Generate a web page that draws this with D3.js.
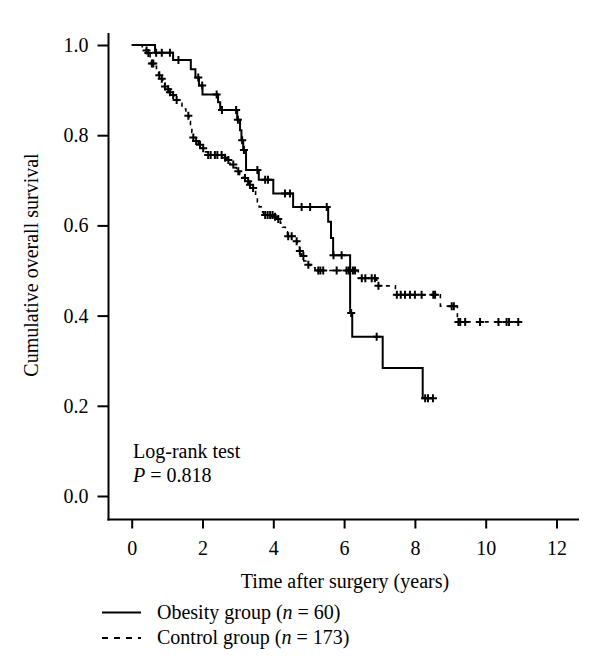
<!DOCTYPE html>
<html>
<head>
<meta charset="utf-8">
<script src="https://cdn.jsdelivr.net/npm/d3@7"></script>
<style>
  html, body { margin: 0; padding: 0; background: #fff; }
  svg { display: block; }
  text { font-family: "Liberation Serif", "Times New Roman", serif; fill: #000; }
</style>
</head>
<body>
<svg id="chart" width="600" height="671"></svg>
<script>
// ---------------- data ----------------
const xTicks = [0, 2, 4, 6, 8, 10, 12];
const yTicks = [0.0, 0.2, 0.4, 0.6, 0.8, 1.0];

// Obesity group: drop times and survival after drop
const obesityStepT = [0.66, 1.17, 1.67, 1.80, 1.90, 2.00, 2.44, 2.50, 2.98, 3.06, 3.10, 3.15, 3.23, 3.59, 4.00, 4.56, 5.55, 5.63, 5.69, 6.17, 6.23, 7.09, 8.22];
const obesityStepS = [0.983, 0.967, 0.946, 0.928, 0.910, 0.890, 0.873, 0.856, 0.834, 0.811, 0.789, 0.767, 0.723, 0.701, 0.671, 0.641, 0.608, 0.572, 0.534, 0.406, 0.353, 0.284, 0.217];
const obesityCensorT = [0.69, 0.85, 1.08, 1.32, 1.88, 1.99, 2.40, 2.55, 2.95, 3.00, 3.12, 3.17, 3.55, 3.77, 3.85, 4.33, 4.47, 4.80, 5.04, 5.51, 5.70, 5.93, 6.20, 6.92, 8.29, 8.37, 8.51];
const obesityEnd = 8.52;

// Control group
const controlStepT = [0.30, 0.40, 0.45, 0.52, 0.56, 0.62, 0.70, 0.76, 0.82, 0.88, 0.93, 1.00, 1.06, 1.12, 1.20, 1.26, 1.35, 1.42, 1.48, 1.53, 1.58, 1.62, 1.66, 1.70, 1.74, 1.80, 1.88, 1.94, 2.05, 2.15, 2.55, 2.68, 2.78, 2.90, 2.96, 3.05, 3.15, 3.22, 3.30, 3.36, 3.45, 3.50, 3.55, 3.60, 3.66, 3.72, 4.02, 4.12, 4.20, 4.26, 4.34, 4.40, 4.62, 4.68, 4.74, 4.80, 4.86, 4.95, 5.05, 5.18, 6.40, 6.92, 7.45, 8.72, 9.20];
const controlStepS = [0.994, 0.988, 0.982, 0.970, 0.959, 0.953, 0.942, 0.933, 0.925, 0.917, 0.908, 0.902, 0.895, 0.889, 0.884, 0.878, 0.871, 0.865, 0.858, 0.851, 0.843, 0.830, 0.818, 0.806, 0.795, 0.787, 0.779, 0.771, 0.763, 0.756, 0.750, 0.745, 0.735, 0.728, 0.720, 0.713, 0.705, 0.698, 0.690, 0.683, 0.675, 0.664, 0.652, 0.641, 0.630, 0.623, 0.619, 0.614, 0.605, 0.596, 0.586, 0.576, 0.565, 0.554, 0.543, 0.532, 0.521, 0.513, 0.506, 0.500, 0.483, 0.466, 0.446, 0.421, 0.386];
const controlCensorT = [0.42, 0.47, 0.57, 0.61, 0.78, 0.85, 0.94, 1.03, 1.08, 1.17, 1.27, 1.60, 1.74, 1.82, 1.93, 2.02, 2.16, 2.23, 2.35, 2.42, 2.54, 2.64, 2.73, 2.87, 3.01, 3.20, 3.29, 3.34, 3.43, 3.77, 3.84, 3.91, 3.98, 4.05, 4.14, 4.42, 4.52, 4.66, 4.75, 4.85, 4.99, 5.27, 5.33, 5.41, 5.79, 6.07, 6.13, 6.17, 6.25, 6.31, 6.50, 6.60, 6.78, 6.87, 6.97, 7.49, 7.60, 7.72, 7.86, 8.00, 8.19, 8.52, 8.57, 9.04, 9.10, 9.23, 9.28, 9.42, 9.84, 10.36, 10.59, 10.66, 10.92];
const controlEnd = 10.95;

const legendLabels = [
  { name: "Obesity group (", n: "n", rest: " = 60)" },
  { name: "Control group (", n: "n", rest: " = 173)" }
];

// ---------------- drawing ----------------
const svg = d3.select("#chart");
svg.append("rect").attr("width", 600).attr("height", 671).attr("fill", "#fff");

const x = d3.scaleLinear().domain([0, 12]).range([131.7, 556.5]);
const y = d3.scaleLinear().domain([0, 1]).range([496, 45]);

const axisLeftX = 108.5, axisBottomY = 519.5, axisTop = 33, axisRight = 579;

// y axis
const gy = svg.append("g").attr("transform", `translate(${axisLeftX},0)`)
  .call(d3.axisLeft(y).tickValues(yTicks).tickFormat(d3.format(".1f")).tickSize(11).tickPadding(9));
gy.select(".domain").remove();
gy.selectAll(".tick line").attr("stroke", "#000").attr("stroke-width", 2);
gy.selectAll(".tick text").style("font-size", "20px").style("font-family", "Liberation Serif, serif");

// x axis
const gx = svg.append("g").attr("transform", `translate(0,${axisBottomY})`)
  .call(d3.axisBottom(x).tickValues(xTicks).tickFormat(d3.format("d")).tickSize(9).tickPadding(12));
gx.select(".domain").remove();
gx.selectAll(".tick line").attr("stroke", "#000").attr("stroke-width", 2);
gx.selectAll(".tick text").style("font-size", "20px").style("font-family", "Liberation Serif, serif");

// axis lines
svg.append("line").attr("x1", axisLeftX).attr("x2", axisLeftX).attr("y1", axisTop).attr("y2", axisBottomY + 1)
  .attr("stroke", "#000").attr("stroke-width", 2);
svg.append("line").attr("x1", axisLeftX - 1).attr("x2", axisRight).attr("y1", axisBottomY).attr("y2", axisBottomY)
  .attr("stroke", "#000").attr("stroke-width", 2);

// axis titles
svg.append("text").attr("transform", "translate(38,265) rotate(-90)")
  .attr("text-anchor", "middle").style("font-size", "20px").text("Cumulative overall survival");
svg.append("text").attr("x", 345).attr("y", 588).attr("text-anchor", "middle")
  .style("font-size", "20px").text("Time after surgery (years)");

// curves
function stepPoints(ts, ss, end) {
  const pts = [[0, 1]];
  ts.forEach((t, i) => pts.push([t, ss[i]]));
  pts.push([end, ss[ss.length - 1]]);
  return pts;
}
function survAt(ts, ss, t) {
  let s = 1;
  for (let i = 0; i < ts.length; i++) { if (ts[i] <= t) s = ss[i]; }
  return s;
}
const line = d3.line().x(d => x(d[0])).y(d => y(d[1])).curve(d3.curveStepAfter);

const groups = [
  { ts: controlStepT, ss: controlStepS, cs: controlCensorT, end: controlEnd, dash: "4,5", w: 1.6 },
  { ts: obesityStepT, ss: obesityStepS, cs: obesityCensorT, end: obesityEnd, dash: null, w: 2 }
];
groups.forEach(g => {
  svg.append("path").datum(stepPoints(g.ts, g.ss, g.end))
    .attr("d", line).attr("fill", "none").attr("stroke", "#000")
    .attr("stroke-width", g.w).attr("stroke-dasharray", g.dash);
  const m = 4;
  svg.append("g").selectAll("path").data(g.cs).join("path")
    .attr("d", t => {
      const cx = x(t), cy = y(survAt(g.ts, g.ss, t));
      return `M${cx - m},${cy}H${cx + m}M${cx},${cy - m}V${cy + m}`;
    })
    .attr("stroke", "#000").attr("stroke-width", 2).attr("fill", "none");
});

// log-rank annotation
svg.append("text").attr("x", 133).attr("y", 458).style("font-size", "20px").text("Log-rank test");
const pt = svg.append("text").attr("x", 133).attr("y", 482).style("font-size", "20px");
pt.append("tspan").style("font-style", "italic").text("P");
pt.append("tspan").text(" = 0.818");

// legend
const legY = [612.5, 638];
legendLabels.forEach((L, i) => {
  svg.append("line").attr("x1", 102).attr("x2", 141).attr("y1", legY[i]).attr("y2", legY[i])
    .attr("stroke", "#000").attr("stroke-width", 2)
    .attr("stroke-dasharray", i === 1 ? "6,6" : null);
  const t = svg.append("text").attr("x", 157).attr("y", legY[i] + 6).style("font-size", "20px");
  t.append("tspan").text(L.name);
  t.append("tspan").style("font-style", "italic").text(L.n);
  t.append("tspan").text(L.rest);
});
</script>
</body>
</html>
